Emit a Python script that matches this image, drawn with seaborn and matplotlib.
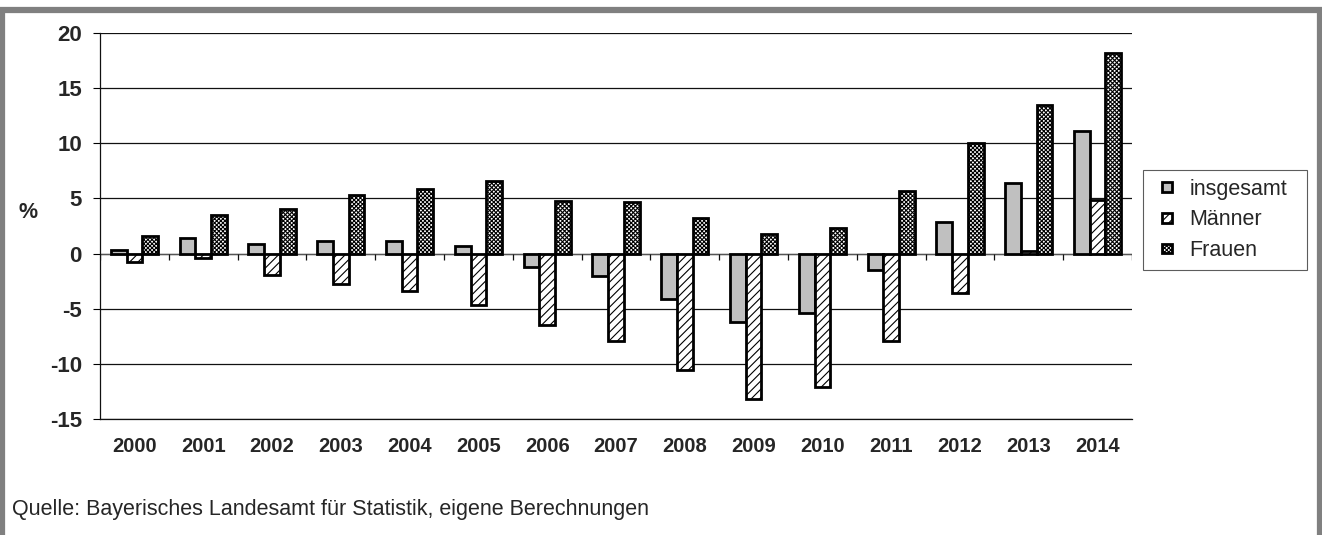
import numpy as np
import pandas as pd
import matplotlib
matplotlib.use("Agg")
import matplotlib.pyplot as plt
from matplotlib.patches import Patch, Rectangle
from matplotlib.legend_handler import HandlerPatch
import seaborn as sns

years = ["2000", "2001", "2002", "2003", "2004", "2005", "2006", "2007",
         "2008", "2009", "2010", "2011", "2012", "2013", "2014"]
insgesamt = [0.3, 1.4, 0.9, 1.1, 1.1, 0.7, -1.2, -2.0, -4.1, -6.2, -5.4, -1.5, 2.9, 6.4, 11.1]
maenner = [-0.8, -0.4, -1.9, -2.8, -3.4, -4.7, -6.5, -7.9, -10.6, -13.2, -12.1, -7.9, -3.6, 0.2, 4.9]
frauen = [1.6, 3.5, 4.0, 5.3, 5.9, 6.6, 4.8, 4.7, 3.2, 1.8, 2.3, 5.7, 10.0, 13.5, 18.2]
series_names = ["insgesamt", "Männer", "Frauen"]
yticks = [-15, -10, -5, 0, 5, 10, 15, 20]
source = "Quelle: Bayerisches Landesamt für Statistik, eigene Berechnungen"

df = pd.DataFrame({
    "Jahr": years * 3,
    "Serie": [series_names[0]] * 15 + [series_names[1]] * 15 + [series_names[2]] * 15,
    "Wert": insgesamt + maenner + frauen,
})

sns.set_style("white")
plt.rcParams["font.family"] = ["Liberation Sans", "DejaVu Sans"]
plt.rcParams["hatch.linewidth"] = 0.8

W, H = 1322, 535
fig = plt.figure(figsize=(W / 100, H / 100), dpi=100)
ax = fig.add_axes([100 / W, 1 - 419 / H, (1132 - 100) / W, (419 - 33) / H])

fills = ["#C0C0C0", "white", "white"]
hatches = [None, "////", "xxxxxxxx"]

sns.barplot(data=df, x="Jahr", y="Wert", hue="Serie", order=years,
            hue_order=series_names, palette=fills, width=0.685,
            edgecolor="black", linewidth=2.0, legend=False, ax=ax, zorder=3)

for cont, h in zip(ax.containers, hatches):
    for p in cont.patches:
        if h:
            p.set_hatch(h)

ax.set_ylim(-15, 20)
ax.set_xlim(-0.5, len(years) - 0.5)
ax.set_yticks(yticks)
ax.set_yticklabels([str(v) for v in yticks], fontweight="bold", fontsize=16)
ax.set_xticklabels(years, fontweight="bold", fontsize=14.5)
ax.tick_params(axis="x", length=0, pad=13)
ax.tick_params(axis="y", length=5, width=0.8, pad=8, color="black", left=True)
ax.grid(axis="y", color="#111111", linewidth=0.9, zorder=0)
ax.grid(axis="x", visible=False)
ax.set_axisbelow(True)
for s in ["top", "right"]:
    ax.spines[s].set_visible(False)
for s in ["left", "bottom"]:
    ax.spines[s].set_color("#111111")
    ax.spines[s].set_linewidth(0.9)
ax.set_xlabel("")
ax.set_ylabel("")

# zero line with category boundary ticks
ax.axhline(0, color="#555555", linewidth=0.9, zorder=1)
ax.vlines(np.arange(len(years) + 1) - 0.5, 0, -0.55, color="#111111", linewidth=0.9, zorder=1)

fig.text(28 / W, 1 - 213 / H, "%", fontweight="bold", fontsize=15.5, ha="center", va="center")


def make_square(legend, orig_handle, xdescent, ydescent, width, height, fontsize):
    s = 7.0
    return Rectangle((-xdescent + width - s, -ydescent + (height - s) / 2), s, s)


handles = [Patch(facecolor=f, edgecolor="black", linewidth=2.0, hatch=h, label=n)
           for f, h, n in zip(fills, hatches, series_names)]
leg = fig.legend(handles=handles, loc="upper left",
                 bbox_to_anchor=(1143 / W, 1 - 269 / H, 164 / W, 99 / H),
                 mode="expand", fontsize=15.5,
                 handler_map={Patch: HandlerPatch(patch_func=make_square)},
                 frameon=True, fancybox=False, edgecolor="#333333",
                 handlelength=0.95, handleheight=0.7, handletextpad=0.8,
                 labelspacing=0.45, borderpad=0.4, borderaxespad=0)
leg.get_frame().set_linewidth(0.8)

fig.text(12 / W, 1 - 515 / H, source, fontsize=15.5, ha="left", va="baseline")

fig.add_artist(Rectangle((1.5 / W, -0.1), 1318 / W, 1.1 - 10 / H,
                         transform=fig.transFigure, fill=False,
                         edgecolor="#808080", linewidth=4.5))

fig.savefig("out.png", dpi=100)
